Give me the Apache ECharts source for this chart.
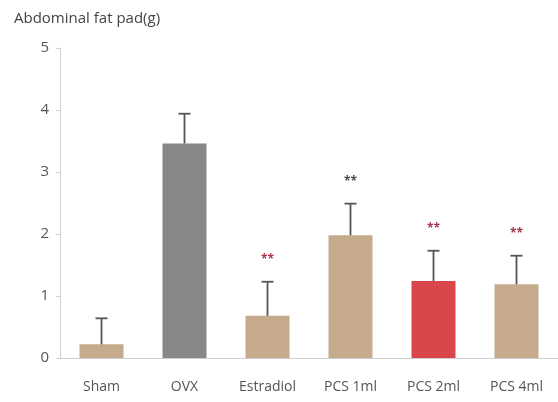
<!DOCTYPE html>
<html>
<head>
<meta charset="utf-8">
<script src="https://cdn.jsdelivr.net/npm/echarts@6/dist/echarts.min.js"></script>
<style>
  html, body { margin: 0; padding: 0; background: #fff; }
  #chart { width: 558px; height: 402px; }
</style>
</head>
<body>
<div id="chart"></div>
<script>
// data
const groups = ['Sham', 'OVX', 'Estradiol', 'PCS 1ml', 'PCS 2ml', 'PCS 4ml']
const means = [0.22, 3.46, 0.68, 1.98, 1.24, 1.19]
const sds = [0.42, 0.48, 0.55, 0.51, 0.49, 0.46]
const barColors = ['#c5aa8b', '#878787', '#c5aa8b', '#c5aa8b', '#d9474b', '#c5aa8b']
const marks = ['', '', '**', '**', '**', '**']
const markColors = ['', '', '#b0354f', '#4a4a4a', '#b0354f', '#a03a4a']
const yTicks = [0, 1, 2, 3, 4, 5]

const chart = echarts.init(document.getElementById('chart'))
const font = '"Open Sans", "Noto Sans", sans-serif'

const option = {
  backgroundColor: '#fff',
  animation: false,
  title: {
    text: 'Abdominal fat pad(g)',
    left: 9,
    top: 6,
    textStyle: { fontFamily: font, fontSize: 15, fontWeight: 'normal', color: '#444' }
  },
  grid: { left: 60, right: -11, top: 48, bottom: 44 },
  xAxis: {
    type: 'category',
    data: groups,
    axisLine: { lineStyle: { color: '#d0d0d0', width: 1 } },
    axisTick: { show: false },
    axisLabel: { fontFamily: font, fontSize: 14, color: '#555', margin: 22 }
  },
  yAxis: {
    type: 'value',
    min: yTicks[0],
    max: yTicks[yTicks.length - 1],
    interval: 1,
    axisLine: { show: true, lineStyle: { color: '#d0d0d0', width: 1 } },
    axisTick: { show: true, length: 4, lineStyle: { color: '#d0d0d0' } },
    splitLine: { show: false },
    axisLabel: { fontFamily: font, fontSize: 15, color: '#555', margin: 11 }
  },
  series: [
    {
      type: 'bar',
      barWidth: 44,
      data: means.map((v, i) => ({ value: v, itemStyle: { color: barColors[i] } })),
      z: 2
    },
    {
      // 误差线 + 显著性标记
      type: 'custom',
      data: means.map((v, i) => [i, v, v + sds[i]]),
      z: 3,
      renderItem: (params, api) => {
        const i = api.value(0)
        const bottom = api.coord([i, api.value(1)])
        const top = api.coord([i, api.value(2)])
        const half = 6
        const children = [
          {
            type: 'line',
            shape: { x1: top[0], y1: top[1], x2: bottom[0], y2: bottom[1] },
            style: { stroke: '#555', lineWidth: 1.8 }
          },
          {
            type: 'line',
            shape: { x1: top[0] - half, y1: top[1], x2: top[0] + half, y2: top[1] },
            style: { stroke: '#555', lineWidth: 1.8 }
          }
        ]
        if (marks[i]) {
          children.push({
            type: 'text',
            x: top[0],
            y: top[1] - 22,
            style: {
              text: marks[i],
              fill: markColors[i],
              font: 'bold 12px ' + font,
              align: 'center',
              verticalAlign: 'middle'
            }
          })
        }
        return { type: 'group', children }
      }
    }
  ]
}
chart.setOption(option)
</script>
</body>
</html>
